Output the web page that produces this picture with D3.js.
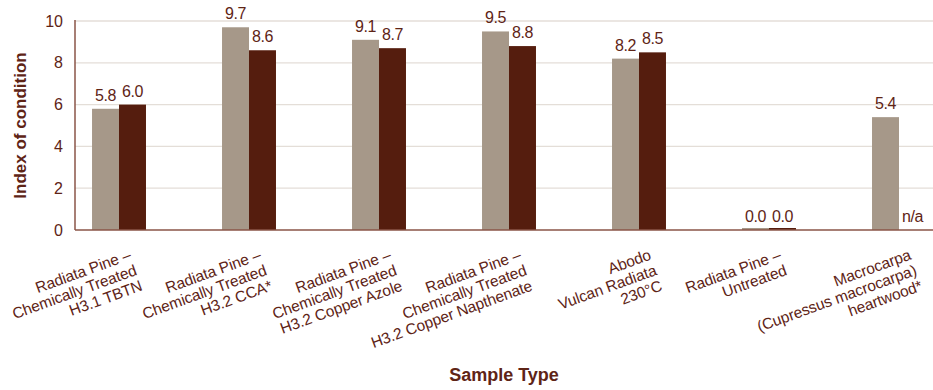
<!DOCTYPE html>
<html>
<head>
<meta charset="utf-8">
<script src="https://cdn.jsdelivr.net/npm/d3@7"></script>
<style>
  html, body { margin: 0; padding: 0; background: #fff; }
  svg { display: block; font-family: "Liberation Sans", Arial, sans-serif; }
</style>
</head>
<body>
<svg id="chart" width="933" height="390"></svg>
<script>
// Sample types (each label split into its display lines)
const categories = [
  ["Radiata Pine –", "Chemically Treated", "H3.1 TBTN"],
  ["Radiata Pine –", "Chemically Treated", "H3.2 CCA*"],
  ["Radiata Pine –", "Chemically Treated", "H3.2 Copper Azole"],
  ["Radiata Pine –", "Chemically Treated", "H3.2 Copper Napthenate"],
  ["Abodo", "Vulcan Radiata", "230°C"],
  ["Radiata Pine –", "Untreated"],
  ["Macrocarpa", "(Cupressus macrocarpa)", "heartwood*"]
];
// Two measurement series per sample type (null = not available)
const seriesA = [5.8, 9.7, 9.1, 9.5, 8.2, 0.0, 5.4];
const seriesB = [6.0, 8.6, 8.7, 8.8, 8.5, 0.0, null];
const yTicks = [0, 2, 4, 6, 8, 10];

const colors = { a: "#a69889", b: "#551d0e" };
const textColor = "#5e2416";
const axisColor = "#8a5547";
const gridColor = "#e4ded8";

const svg = d3.select("#chart");
const plotLeft = 75, plotRight = 943, plotTop = 21, plotBottom = 230, edge = 933;

const keys = categories.map((c, i) => i);
const x = d3.scaleBand().domain(keys).range([plotLeft, plotRight])
  .paddingInner(0.585).paddingOuter(0.131);
const xs = d3.scaleBand().domain(["a", "b"]).range([0, x.bandwidth()]);
const y = d3.scaleLinear().domain([0, 10]).range([plotBottom, plotTop]);

// Horizontal gridlines
svg.append("g").selectAll("line").data(yTicks.filter(t => t > 0)).join("line")
  .attr("x1", plotLeft).attr("x2", edge)
  .attr("y1", d => y(d)).attr("y2", d => y(d))
  .attr("stroke", gridColor).attr("stroke-width", 1.3);

// Y axis tick labels
const yAxis = svg.append("g").attr("transform", `translate(${plotLeft},0)`)
  .call(d3.axisLeft(y).tickValues(yTicks).tickSize(0).tickPadding(12));
yAxis.select(".domain").remove();
yAxis.selectAll("text").attr("fill", textColor)
  .style("font-size", "16px").style("font-family", "'Liberation Sans', Arial, sans-serif");

// Bars
const rows = keys.map(i => ({ i, a: seriesA[i], b: seriesB[i] }));
const groups = svg.append("g").selectAll("g").data(rows).join("g")
  .attr("transform", d => `translate(${x(d.i)},0)`);

["a", "b"].forEach(k => {
  groups.filter(d => d[k] !== null).append("rect")
    .attr("x", xs(k)).attr("width", xs.bandwidth())
    .attr("y", d => Math.min(y(d[k]), plotBottom - 2))
    .attr("height", d => Math.max(plotBottom - y(d[k]), 2))
    .attr("fill", colors[k]);

  groups.append("text")
    .attr("x", xs(k) + xs.bandwidth() / 2)
    .attr("y", d => y(d[k] === null ? 0 : d[k]) - 8)
    .attr("text-anchor", "middle")
    .attr("fill", textColor)
    .style("font-size", "16px")
    .style("letter-spacing", "-0.4px")
    .text(d => d[k] === null ? "n/a" : d3.format(".1f")(d[k]));
});

// Axis lines
svg.append("line").attr("x1", plotLeft).attr("x2", plotLeft).attr("y1", plotTop - 1).attr("y2", plotBottom)
  .attr("stroke", axisColor).attr("stroke-width", 1.5);
svg.append("line").attr("x1", plotLeft).attr("x2", edge).attr("y1", plotBottom).attr("y2", plotBottom)
  .attr("stroke", axisColor).attr("stroke-width", 1.5);

// Rotated category labels
const labels = svg.append("g").selectAll("text").data(keys).join("text")
  .attr("transform", i => `translate(${x(i) + x.bandwidth() / 2 + 13},${plotBottom + 29}) rotate(-20)`)
  .attr("text-anchor", "end")
  .attr("fill", textColor)
  .style("font-size", "15.5px")
  .style("letter-spacing", "-0.1px");
labels.selectAll("tspan").data(i => categories[i]).join("tspan")
  .attr("x", 0).attr("dy", (d, j) => j === 0 ? 0 : 16.5)
  .text(d => d);

// Axis titles
svg.append("text")
  .attr("transform", `translate(26,${(plotTop + plotBottom) / 2}) rotate(-90)`)
  .attr("text-anchor", "middle")
  .attr("fill", textColor)
  .style("font-size", "17px").style("font-weight", "bold")
  .text("Index of condition");

svg.append("text")
  .attr("x", (plotLeft + edge) / 2).attr("y", 381)
  .attr("text-anchor", "middle")
  .attr("fill", textColor)
  .style("font-size", "18px").style("font-weight", "bold")
  .text("Sample Type");
</script>
</body>
</html>
